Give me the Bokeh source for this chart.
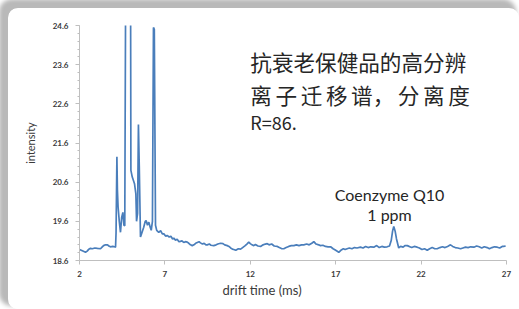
from bokeh.plotting import figure
from bokeh.models import FixedTicker, Label, InlineStyleSheet, Title
from bokeh.embed import file_html
from bokeh.resources import INLINE

# ---- data ----
drift_time = [2.00, 2.10, 2.20, 2.35, 2.45, 2.55, 2.64, 2.75, 2.90, 3.05, 3.23, 3.32, 3.41, 3.52,
              3.64, 3.72, 3.81, 3.95, 4.05, 4.11, 4.14, 4.19, 4.22, 4.26, 4.33, 4.40, 4.47, 4.54,
              4.60, 4.65, 4.74, 4.97, 5.01, 5.09, 5.22, 5.30, 5.34, 5.40, 5.45, 5.50, 5.57, 5.65,
              5.76, 5.85, 5.90, 5.98, 6.06, 6.14, 6.20, 6.27, 6.33, 6.38, 6.45, 6.52, 6.64, 6.75,
              6.85, 6.94, 7.05, 7.13, 7.25, 7.35, 7.45, 7.52, 7.62, 7.72, 7.82, 7.91, 8.00, 8.10,
              8.20, 8.31, 8.40, 8.50, 8.60, 8.70, 8.80, 8.90, 9.00, 9.08, 9.20, 9.30, 9.40, 9.48,
              9.60, 9.70, 9.86, 10.00, 10.10, 10.26, 10.40, 10.50, 10.65, 10.75, 10.85, 10.95,
              11.03, 11.15, 11.30, 11.43, 11.55, 11.70, 11.80, 11.91, 12.00, 12.10, 12.20, 12.30,
              12.45, 12.60, 12.75, 12.88, 12.99, 13.10, 13.25, 13.40, 13.58, 13.70, 13.85, 13.96,
              14.10, 14.25, 14.40, 14.55, 14.70, 14.85, 15.00, 15.13, 15.30, 15.45, 15.60, 15.72,
              15.85, 16.00, 16.11, 16.25, 16.40, 16.55, 16.70, 16.85, 17.00, 17.18, 17.30, 17.45,
              17.55, 17.67, 17.80, 17.95, 18.10, 18.25, 18.45, 18.60, 18.75, 18.90, 19.05, 19.23,
              19.40, 19.55, 19.70, 19.85, 20.01, 20.15, 20.25, 20.33, 20.40, 20.48, 20.56, 20.69,
              20.80, 20.95, 21.05, 21.19, 21.30, 21.45, 21.60, 21.77, 21.90, 22.05, 22.20, 22.36,
              22.50, 22.65, 22.80, 22.94, 23.10, 23.25, 23.40, 23.55, 23.72, 23.85, 24.00, 24.15,
              24.31, 24.45, 24.60, 24.75, 24.90, 25.09, 25.25, 25.40, 25.55, 25.70, 25.87, 26.00,
              26.15, 26.30, 26.46, 26.60, 26.75, 26.84, 26.95]
intensity = [18.88, 18.86, 18.84, 18.81, 18.84, 18.89, 18.91, 18.90, 18.92, 18.91, 18.90, 18.94, 18.98, 19.00,
             19.00, 18.97, 18.95, 18.96, 18.95, 18.94, 19.30, 21.25, 20.40, 19.96, 19.60, 19.32, 19.70, 19.83,
             19.50, 19.49, 30.00, 30.00, 20.90, 20.73, 20.56, 20.30, 19.60, 19.80, 22.07, 21.00, 19.20, 19.30,
             19.45, 19.60, 19.62, 19.50, 19.58, 19.45, 19.37, 19.60, 24.55, 24.50, 19.50, 19.37, 19.32, 19.36,
             19.28, 19.28, 19.22, 19.24, 19.20, 19.22, 19.15, 19.17, 19.12, 19.14, 19.08, 19.09, 19.10, 19.06,
             19.08, 19.07, 19.04, 19.00, 18.98, 19.00, 19.04, 19.06, 19.08, 19.05, 19.02, 19.04, 19.00, 19.00,
             19.02, 18.99, 18.98, 19.00, 19.02, 19.04, 19.03, 19.00, 18.98, 18.96, 18.92, 18.89,
             18.88, 18.86, 18.90, 18.89, 18.93, 18.98, 19.02, 19.07, 19.03, 19.00, 18.98, 19.01,
             18.97, 18.96, 19.00, 19.02, 19.03, 19.00, 19.02, 18.97, 18.96, 18.93, 18.90, 18.90,
             18.93, 18.96, 18.98, 18.98, 19.00, 18.98, 19.00, 19.00, 19.02, 19.00, 19.04, 19.08,
             19.02, 19.00, 18.98, 18.99, 18.96, 18.95, 18.95, 18.90, 18.86, 18.81, 18.86, 18.90,
             18.88, 18.90, 18.92, 18.90, 18.93, 18.92, 18.94, 18.92, 18.96, 18.93, 18.95, 18.94,
             18.98, 18.93, 18.96, 18.94, 18.95, 18.97, 19.11, 19.35, 19.47, 19.35, 19.15, 18.92,
             18.96, 18.94, 18.98, 18.98, 18.96, 18.93, 18.96, 18.94, 18.92, 18.88, 18.90, 18.86,
             18.90, 18.93, 18.90, 18.90, 18.93, 18.95, 18.93, 18.96, 19.00, 18.96, 18.93, 18.92,
             18.90, 18.92, 18.94, 18.93, 18.95, 18.94, 18.97, 18.95, 18.92, 18.95, 18.93, 18.90,
             18.93, 18.95, 18.94, 18.92, 18.96, 18.96, 18.97]

x_ticks = [2, 7, 12, 17, 22, 27]
y_ticks = [18.6, 19.6, 20.6, 21.6, 22.6, 23.6, 24.6]
y_minor_ticks = [round(18.6 + 0.2 * i, 1) for i in range(31)]

x_title = "drift time (ms)"
y_title = "intensity"
title_line1 = "抗衰老保健品的高分辨"
title_line2 = "离\u2006子\u2006迁\u2006移\u2006谱，\u2006分\u2006离\u2006度"
title_line3 = "R=86."
peak_label1 = "Coenzyme Q10"
peak_label2 = "1 ppm"

LINE = "#4a7ebb"
TXT = "#262626"
AX = "#bfbfbf"

p = figure(width=511, height=301, x_range=(2, 27), y_range=(18.6, 24.6),
           output_backend="svg", toolbar_location=None,
           min_border_left=71, min_border_right=13, min_border_top=17, min_border_bottom=49)
p.border_fill_color = "white"
p.background_fill_color = "white"
p.outline_line_color = None
p.xgrid.visible = False
p.ygrid.visible = False
p.stylesheets = [InlineStyleSheet(css=":host{margin:8px 0 0 8px; border-radius:10px 10px 0 10px; overflow:hidden;"
                                      " box-shadow:-6px -6px 4px 3px #b9b9b9;}")]

p.line(drift_time, intensity, line_color=LINE, line_width=1.7)

# axes
p.xaxis.ticker = FixedTicker(ticks=x_ticks, minor_ticks=[])
p.yaxis.ticker = FixedTicker(ticks=y_ticks, minor_ticks=y_minor_ticks)
for ax in (p.xaxis[0], p.yaxis[0]):
    ax.axis_line_color = AX
    ax.major_tick_line_color = AX
    ax.minor_tick_line_color = AX
    ax.major_tick_in = 0
    ax.minor_tick_in = 0
    ax.major_label_text_font = "Lato"
    ax.major_label_text_font_style = "bold"
    ax.major_label_text_font_size = "8px"
    ax.major_label_text_color = "#3a3a3a"
p.xaxis.major_tick_out = 4
p.yaxis.major_tick_out = 4
p.yaxis.minor_tick_out = 2
p.xaxis.major_label_standoff = 6
p.yaxis.major_label_standoff = 7

p.yaxis.axis_label = y_title
p.yaxis.axis_label_text_font = "Lato"
p.yaxis.axis_label_text_font_style = "normal"
p.yaxis.axis_label_text_font_size = "11px"
p.yaxis.axis_label_text_color = "#3a3a3a"
p.yaxis.axis_label_standoff = 13

# x axis title (placed left of centre as in the reference)
p.add_layout(Title(text=x_title, align="left", offset=143, text_font="Lato",
                   text_font_size="13px", text_font_style="normal", text_color="#3a3a3a",
                   standoff=1), "below")

# annotations
cjk = "Noto Sans CJK SC"
p.add_layout(Label(x=12.0, y=23.67, text=title_line1, text_font=cjk, text_font_size="21.6px",
                   text_color=TXT, text_align="left", text_baseline="alphabetic"))
p.add_layout(Label(x=12.0, y=22.85, text=title_line2, text_font=cjk, text_font_size="21.6px",
                   text_color=TXT, text_align="left", text_baseline="alphabetic"))
p.add_layout(Label(x=12.0, y=22.13, text=title_line3, text_font=cjk, text_font_size="18px",
                   text_color=TXT, text_align="left", text_baseline="alphabetic"))
p.add_layout(Label(x=20.15, y=20.28, text=peak_label1, text_font="Lato", text_font_size="16px",
                   text_color=TXT, text_align="center", text_baseline="alphabetic"))
p.add_layout(Label(x=20.15, y=19.77, text=peak_label2, text_font="Lato", text_font_size="16px",
                   text_color=TXT, text_align="center", text_baseline="alphabetic"))

open("out.html", "w").write(file_html(p, INLINE))
